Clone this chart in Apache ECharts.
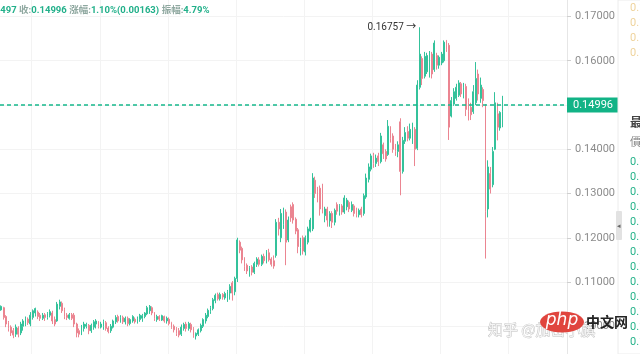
<!DOCTYPE html>
<html>
<head>
<meta charset="utf-8">
<title>K线</title>
<script src="https://cdn.jsdelivr.net/npm/echarts@6/dist/echarts.min.js"></script>
<style>
html, body { margin: 0; padding: 0; background: #fff; }
#main { width: 640px; height: 354px; }
</style>
</head>
<body>
<div id="main"></div>
<script>
// each row: [open, close, low, high]
const ohlc = [
  [0.1037,0.1045,0.1035,0.1047],[0.1042,0.1020,0.1015,0.1044],[0.1022,0.1005,0.0998,0.1025],
  [0.1008,0.0995,0.0988,0.1012],[0.0998,0.0985,0.0978,0.1002],[0.0990,0.0980,0.0973,0.0996],
  [0.0982,0.0998,0.0976,0.1004],[0.0996,0.0982,0.0975,0.1000],[0.0985,0.1005,0.0980,0.1010],
  [0.1000,0.1012,0.0990,0.1016],[0.1005,0.1018,0.1000,0.1022],[0.1016,0.1008,0.1003,0.1020],
  [0.1005,0.1025,0.1000,0.1032],[0.1020,0.1035,0.1015,0.1038],[0.1030,0.1040,0.1022,0.1042],
  [0.1032,0.1022,0.1016,0.1036],[0.1025,0.1018,0.1012,0.1030],[0.1018,0.1025,0.1014,0.1030],
  [0.1026,0.1020,0.1012,0.1030],[0.1020,0.1028,0.1015,0.1032],[0.1025,0.1033,0.1020,0.1038],
  [0.1030,0.1012,0.1005,0.1035],[0.1015,0.1005,0.1000,0.1022],[0.1012,0.1050,0.1010,0.1055],
  [0.1045,0.1055,0.1038,0.1060],[0.1052,0.1035,0.1030,0.1056],[0.1038,0.1022,0.1016,0.1042],
  [0.1025,0.1020,0.1014,0.1030],[0.1018,0.1026,0.1015,0.1030],[0.1026,0.1018,0.1014,0.1030],
  [0.1025,0.1005,0.0998,0.1030],[0.1005,0.0985,0.0975,0.1008],[0.0990,0.0982,0.0975,0.0995],
  [0.0985,0.0998,0.0980,0.1003],[0.0995,0.1005,0.0988,0.1010],[0.1000,0.1004,0.0995,0.1008],
  [0.1002,0.0990,0.0982,0.1005],[0.0990,0.1002,0.0985,0.1006],[0.0998,0.1010,0.0992,0.1014],
  [0.1005,0.1012,0.0995,0.1016],[0.1010,0.1000,0.0995,0.1012],[0.0998,0.1005,0.0995,0.1010],
  [0.1000,0.1010,0.0992,0.1015],[0.1008,0.0995,0.0990,0.1012],[0.0996,0.0988,0.0984,0.1000],
  [0.0990,0.1000,0.0985,0.1005],[0.0998,0.1012,0.0995,0.1015],[0.1010,0.1020,0.1005,0.1025],
  [0.1022,0.1012,0.1008,0.1026],[0.1012,0.1020,0.1008,0.1025],[0.1020,0.1010,0.1005,0.1024],
  [0.1010,0.1018,0.1004,0.1022],[0.1018,0.1006,0.1000,0.1022],[0.1006,0.1015,0.1002,0.1018],
  [0.1012,0.1022,0.1008,0.1025],[0.1016,0.1010,0.1006,0.1020],[0.1010,0.1018,0.1006,0.1022],
  [0.1015,0.1025,0.1010,0.1028],[0.1018,0.1024,0.1010,0.1028],[0.1022,0.1030,0.1018,0.1032],
  [0.1028,0.1042,0.1025,0.1046],[0.1035,0.1045,0.1028,0.1048],[0.1042,0.1030,0.1025,0.1045],
  [0.1030,0.1018,0.1012,0.1032],[0.1015,0.1022,0.1010,0.1026],[0.1022,0.1016,0.1012,0.1025],
  [0.1014,0.1024,0.1012,0.1026],[0.1022,0.1012,0.1008,0.1024],[0.1012,0.1018,0.1006,0.1022],
  [0.1016,0.1006,0.1002,0.1020],[0.1008,0.0998,0.0994,0.1010],[0.1000,0.0992,0.0986,0.1004],
  [0.0994,0.0984,0.0978,0.0998],[0.0990,0.0980,0.0975,0.0996],[0.0982,0.0998,0.0978,0.1004],
  [0.0995,0.1004,0.0990,0.1008],[0.1005,0.0995,0.0988,0.1010],[0.0995,0.1006,0.0990,0.1010],
  [0.1004,0.0992,0.0986,0.1008],[0.0994,0.0980,0.0974,0.0998],[0.0978,0.0984,0.0970,0.0986],
  [0.0982,0.0992,0.0978,0.0995],[0.0990,0.1002,0.0986,0.1006],[0.1000,0.1015,0.0996,0.1018],
  [0.1012,0.1025,0.1006,0.1030],[0.1022,0.1036,0.1018,0.1040],[0.1034,0.1042,0.1028,0.1046],
  [0.1040,0.1060,0.1036,0.1064],[0.1058,0.1070,0.1052,0.1074],[0.1072,0.1062,0.1058,0.1076],
  [0.1062,0.1072,0.1058,0.1076],[0.1072,0.1066,0.1060,0.1075],[0.1064,0.1074,0.1060,0.1078],
  [0.1062,0.1078,0.1055,0.1082],[0.1075,0.1090,0.1060,0.1095],[0.1098,0.1075,0.1058,0.1102],
  [0.1078,0.1108,0.1070,0.1112],[0.1108,0.1195,0.1100,0.1200],[0.1190,0.1172,0.1165,0.1194],
  [0.1176,0.1150,0.1142,0.1180],[0.1152,0.1135,0.1125,0.1156],[0.1138,0.1125,0.1118,0.1142],
  [0.1125,0.1132,0.1112,0.1136],[0.1134,0.1122,0.1115,0.1138],[0.1122,0.1142,0.1118,0.1146],
  [0.1140,0.1152,0.1134,0.1156],[0.1150,0.1140,0.1135,0.1156],[0.1140,0.1158,0.1136,0.1162],
  [0.1158,0.1148,0.1142,0.1164],[0.1148,0.1168,0.1142,0.1172],[0.1166,0.1150,0.1146,0.1175],
  [0.1152,0.1140,0.1135,0.1156],[0.1148,0.1136,0.1130,0.1160],[0.1160,0.1235,0.1155,0.1242],
  [0.1235,0.1220,0.1205,0.1245],[0.1200,0.1255,0.1190,0.1265],[0.1230,0.1262,0.1220,0.1268],
  [0.1258,0.1190,0.1138,0.1264],[0.1195,0.1240,0.1190,0.1248],[0.1270,0.1245,0.1236,0.1275],
  [0.1275,0.1240,0.1232,0.1280],[0.1242,0.1215,0.1208,0.1246],[0.1218,0.1180,0.1165,0.1222],
  [0.1178,0.1195,0.1160,0.1200],[0.1200,0.1170,0.1162,0.1205],[0.1168,0.1200,0.1160,0.1205],
  [0.1190,0.1220,0.1185,0.1225],[0.1215,0.1240,0.1212,0.1245],[0.1220,0.1335,0.1215,0.1346],
  [0.1330,0.1300,0.1290,0.1338],[0.1305,0.1290,0.1280,0.1315],[0.1312,0.1265,0.1250,0.1318],
  [0.1300,0.1268,0.1255,0.1322],[0.1250,0.1265,0.1235,0.1270],[0.1265,0.1240,0.1225,0.1270],
  [0.1238,0.1255,0.1225,0.1260],[0.1255,0.1235,0.1222,0.1260],[0.1235,0.1262,0.1228,0.1266],
  [0.1275,0.1260,0.1252,0.1280],[0.1258,0.1272,0.1250,0.1276],[0.1272,0.1258,0.1252,0.1276],
  [0.1258,0.1290,0.1254,0.1296],[0.1270,0.1285,0.1262,0.1290],[0.1280,0.1265,0.1258,0.1284],
  [0.1262,0.1275,0.1258,0.1282],[0.1272,0.1255,0.1248,0.1276],[0.1262,0.1252,0.1246,0.1268],
  [0.1252,0.1262,0.1246,0.1266],[0.1265,0.1252,0.1246,0.1270],[0.1255,0.1295,0.1250,0.1300],
  [0.1292,0.1335,0.1288,0.1345],[0.1332,0.1360,0.1325,0.1368],[0.1355,0.1385,0.1350,0.1390],
  [0.1385,0.1368,0.1358,0.1392],[0.1368,0.1380,0.1360,0.1388],[0.1385,0.1372,0.1362,0.1392],
  [0.1372,0.1430,0.1368,0.1437],[0.1410,0.1390,0.1378,0.1415],[0.1395,0.1378,0.1372,0.1400],
  [0.1388,0.1452,0.1385,0.1466],[0.1448,0.1425,0.1415,0.1452],[0.1430,0.1400,0.1392,0.1436],
  [0.1405,0.1395,0.1385,0.1412],[0.1395,0.1410,0.1382,0.1418],[0.1462,0.1350,0.1296,0.1470],
  [0.1350,0.1420,0.1345,0.1428],[0.1418,0.1438,0.1412,0.1450],[0.1440,0.1425,0.1418,0.1452],
  [0.1425,0.1445,0.1420,0.1458],[0.1430,0.1448,0.1412,0.1460],[0.1445,0.1400,0.1362,0.1450],
  [0.1402,0.1545,0.1398,0.1556],[0.1540,0.1615,0.1535,0.16757],[0.1605,0.1560,0.1545,0.1610],
  [0.1565,0.1610,0.1560,0.1620],[0.1575,0.1612,0.1570,0.1618],[0.1568,0.1615,0.1562,0.1622],
  [0.1615,0.1570,0.1560,0.1620],[0.1580,0.1640,0.1575,0.1646],[0.1612,0.1590,0.1580,0.1618],
  [0.1590,0.1608,0.1582,0.1612],[0.1595,0.1615,0.1590,0.1620],[0.1600,0.1642,0.1596,0.1646],
  [0.1645,0.1625,0.1620,0.1647],[0.1635,0.1450,0.1421,0.1640],[0.1475,0.1510,0.1472,0.1518],
  [0.1502,0.1530,0.1498,0.1538],[0.1515,0.1540,0.1510,0.1548],[0.1522,0.1550,0.1518,0.1556],
  [0.1548,0.1525,0.1518,0.1552],[0.1525,0.1540,0.1515,0.1550],[0.1542,0.1490,0.1475,0.1548],
  [0.1505,0.1485,0.1465,0.1515],[0.1495,0.1478,0.1466,0.1505],[0.1485,0.1530,0.1480,0.1545],
  [0.1505,0.1560,0.1500,0.1597],[0.1570,0.1525,0.1510,0.1580],[0.1515,0.1545,0.1505,0.1562],
  [0.1535,0.1510,0.1495,0.1540],[0.1500,0.1260,0.1153,0.1502],[0.1265,0.1360,0.1246,0.1375],
  [0.1345,0.1310,0.1300,0.1360],[0.1320,0.1395,0.1314,0.1405],[0.1400,0.1505,0.1398,0.1529],
  [0.1480,0.1450,0.1420,0.1505],[0.1448,0.14833,0.1442,0.1486],[0.14850,0.14996,0.14497,0.15207]
];

// total slots on the time axis (empty room right of the last candle)
const slotCount = 233;
const yMin = 0.09;
const yMax = 0.18;
const yStep = 0.01;

// right-hand order book, only the first characters are visible
const askPrices = ['0.15012', '0.15008', '0.15003', '0.15000'];
const tradePrices = ['0.14996', '0.14996', '0.14995', '0.14993', '0.14996', '0.14990', '0.14992',
  '0.14996', '0.14988', '0.14990', '0.14986', '0.14990', '0.14985'];

const upColor = '#34c29b';
const downColor = '#eb8591';
const priceLineColor = '#16b88c';
const font = 'Roboto, "Noto Sans CJK SC", sans-serif';

const categories = [];
for (let i = 0; i < slotCount; i++) categories.push(String(i));

const last = ohlc[ohlc.length - 1];
const prevClose = ohlc[ohlc.length - 2][1];
const change = last[1] - prevClose;
const headText = '{l|低:}{v|' + last[2].toFixed(5) + '} {l|收:}{v|' + last[1].toFixed(5) + '} {l|涨幅:}{v|'
  + (change / prevClose * 100).toFixed(2) + '%(' + change.toFixed(5) + ')} {l|振幅:}{v|'
  + ((last[3] - last[2]) / prevClose * 100).toFixed(2) + '%}';

function panelGraphics() {
  const items = [
    { type: 'rect', z: 10, shape: { x: 618, y: 0, width: 24, height: 354 }, style: { fill: '#fff', stroke: '#ececec', lineWidth: 1 } }
  ];
  askPrices.forEach((p, i) => {
    items.push({ type: 'text', z: 11, x: 630, y: 8 + i * 15, style: { text: p, fill: '#efd39c', font: '11px ' + font, textVerticalAlign: 'middle' } });
  });
  items.push({ type: 'text', z: 11, x: 630, y: 124, style: { text: '最新成交', fill: '#444', font: 'bold 12px ' + font, textVerticalAlign: 'middle' } });
  items.push({ type: 'text', z: 11, x: 630, y: 143, style: { text: '價格', fill: '#888', font: '11px ' + font, textVerticalAlign: 'middle' } });
  tradePrices.forEach((p, i) => {
    items.push({ type: 'text', z: 11, x: 630, y: 162 + i * 15, style: { text: p, fill: '#26b38a', font: '11px ' + font, textVerticalAlign: 'middle' } });
  });
  items.push({ type: 'rect', z: 12, shape: { x: 616, y: 211, width: 6, height: 29, r: 1 }, style: { fill: '#e2e2e2' } });
  items.push({ type: 'text', z: 13, x: 617, y: 226, style: { text: '◂', fill: '#666', font: '7px sans-serif', textVerticalAlign: 'middle' } });
  // watermarks
  items.push({ type: 'text', z: 20, x: 488, y: 329, style: { text: '知乎 @加密小旗', fill: '#f4f4f4', stroke: '#bdbdbd', lineWidth: 0.8, font: '15px "Noto Sans CJK SC"', textVerticalAlign: 'middle' } });
  items.push({ type: 'ellipse', z: 21, shape: { cx: 562, cy: 322, rx: 22, ry: 10.5 }, style: { fill: '#e0453e' } });
  items.push({ type: 'text', z: 22, x: 562, y: 321, style: { text: 'php', fill: '#fff', font: 'italic 17px "DejaVu Sans"', textAlign: 'center', textVerticalAlign: 'middle' } });
  items.push({ type: 'text', z: 22, x: 586, y: 322, style: { text: '中文网', fill: '#222', font: 'bold 14px "Noto Sans CJK SC"', textVerticalAlign: 'middle' } });
  return items;
}

const chart = echarts.init(document.getElementById('main'));
chart.setOption({
  animation: false,
  backgroundColor: '#fff',
  title: {
    text: headText,
    left: -31,
    top: 6,
    padding: 0,
    textStyle: {
      fontSize: 10,
      fontFamily: font,
      rich: {
        l: { color: '#8fa8a0', fontSize: 9.5, fontFamily: font },
        v: { color: '#22b08a', fontSize: 9.5, fontFamily: font }
      }
    }
  },
  grid: { left: 0, right: 73, top: -27.75, bottom: -16.5, containLabel: false, outerBoundsMode: 'none' },
  xAxis: {
    type: 'category',
    data: categories,
    boundaryGap: true,
    axisLine: { show: false },
    axisTick: { show: false },
    axisLabel: { show: false },
    splitLine: {
      show: true,
      interval: (index) => index % 28 === 13,
      lineStyle: { color: '#f3f3f3' }
    }
  },
  yAxis: {
    type: 'value',
    position: 'right',
    min: yMin,
    max: yMax,
    interval: yStep,
    axisLine: { show: true, lineStyle: { color: '#e6e6e6' } },
    axisTick: { show: true, length: 4, lineStyle: { color: '#cfcfcf' } },
    axisLabel: {
      margin: 8,
      color: '#8c8c8c',
      fontSize: 11,
      fontFamily: font,
      formatter: (v) => v.toFixed(5)
    },
    splitLine: { lineStyle: { color: '#f3f3f3' } }
  },
  series: [{
    type: 'candlestick',
    data: ohlc,
    barWidth: '55%',
    itemStyle: {
      color: upColor,
      color0: downColor,
      borderColor: upColor,
      borderColor0: downColor,
      borderWidth: 1
    },
    markPoint: {
      silent: true,
      symbol: 'circle',
      symbolSize: 1,
      itemStyle: { color: 'rgba(0,0,0,0)' },
      data: [{ type: 'max', valueDim: 'highest' }],
      label: {
        position: 'left',
        distance: 3,
        color: '#333',
        fontSize: 10,
        fontFamily: font,
        formatter: (p) => Number(p.value).toFixed(5) + ' →'
      }
    }
  }],
  graphic: panelGraphics()
});

// last-price line and tag, placed through the y axis scale
const grid = chart.getModel().getComponent('grid').coordinateSystem.getRect();
const priceY = Math.round(chart.convertToPixel({ yAxisIndex: 0 }, last[1]));
chart.setOption({
  graphic: panelGraphics().concat([
    {
      type: 'line', z: 5, silent: true,
      shape: { x1: grid.x, y1: priceY, x2: grid.x + grid.width, y2: priceY },
      style: { stroke: priceLineColor, lineWidth: 1.4, lineDash: [4, 3] }
    },
    {
      type: 'text', z: 6, silent: true,
      x: grid.x + grid.width, y: priceY,
      style: {
        text: last[1].toFixed(5),
        fill: '#fff',
        backgroundColor: '#12b386',
        padding: [2, 6],
        font: '11px ' + font,
        textVerticalAlign: 'middle'
      }
    }
  ])
});
</script>
</body>
</html>
